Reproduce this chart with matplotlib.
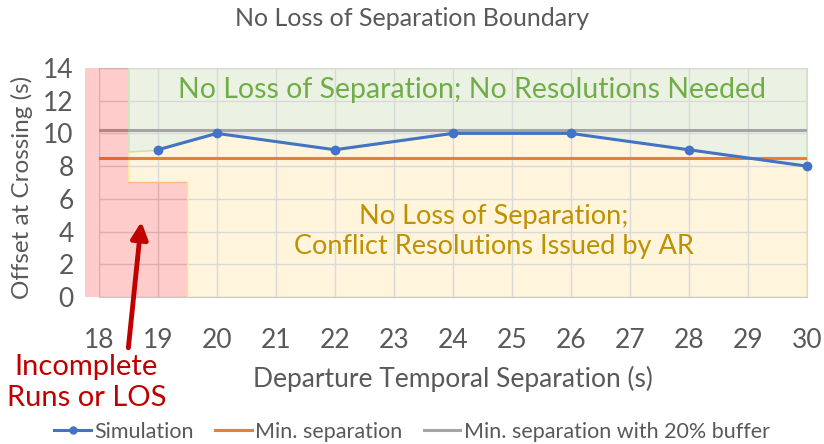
import numpy as np
import matplotlib.pyplot as plt
from matplotlib.patches import Rectangle
from matplotlib.lines import Line2D

plt.rcParams['font.family'] = ['Lato', 'DejaVu Sans']

###--- Data ---###
sep_sim = [19, 20, 22, 24, 26, 28, 30]          # departure temporal separation (s)
offset_sim = [9, 10, 9, 10, 10, 9, 8]           # offset at crossing (s)
min_sep = 8.5
min_sep_buf = 10.2

# region boundaries (stacked area behind the line)
area_x = [18.5, 19, 20, 22, 24, 26, 28, 30]
area_top = [8.9, 9, 10, 9, 10, 10, 9, 8]
los_full = (17.76, 18.5)       # incomplete runs, full height
los_part = (18.5, 19.5, 7)     # incomplete runs up to 7 s

xticks = list(range(18, 31))
yticks = list(range(0, 15, 2))

###--- Plot ---###
fig = plt.figure(figsize=(8.24, 4.44), dpi=100)
ax = fig.add_axes([0.120, 0.331, 0.859, 0.516])

ax.set_xlim(18, 30)
ax.set_ylim(0, 14)

yel_fc, yel_ec = '#FFF5DC', '#FFE38F'
grn_fc, grn_ec = '#EBF2E4', '#C5E0B4'
red_fc = (1.0, 0.0, 0.0, 0.2)

ax.fill_between(area_x, 0, area_top, facecolor=yel_fc, edgecolor=yel_ec, lw=1, zorder=1)
ax.fill_between(area_x, area_top, 14, facecolor=grn_fc, edgecolor=grn_ec, lw=1, zorder=1)
# blank out the yellow under the partial LOS box so it reads pink, not orange
ax.add_patch(Rectangle((los_part[0], 0), los_part[1]-los_part[0], los_part[2], facecolor='white',
                       edgecolor='none', zorder=1.5))

# grid under the red overlay
ax.set_xticks(xticks)
ax.set_yticks(yticks)
ax.grid(True, color='#D9D9D9', lw=1)
ax.set_axisbelow(False)
for s in ['top', 'right', 'left']:
    ax.spines[s].set_color('#D9D9D9')
ax.spines['bottom'].set_color('#C8C8C8')

ax.axhline(min_sep_buf, color='#A5A5A5', lw=2.2, zorder=4)
ax.axhline(min_sep, color='#ED7D31', lw=2.2, zorder=4)

ax.add_patch(Rectangle((los_full[0], 0), los_full[1]-los_full[0], 14, facecolor=red_fc,
                       edgecolor='none', clip_on=False, zorder=4.5))
ax.add_patch(Rectangle((los_part[0], 0), los_part[1]-los_part[0], los_part[2], facecolor=red_fc,
                       edgecolor='none', zorder=4.5))
ax.plot([los_part[0], los_part[1]], [los_part[2], los_part[2]], color='#FFB98A', lw=1, zorder=4.5)
ax.plot([los_part[1], los_part[1]], [0, los_part[2]], color='#FFE38F', lw=1, zorder=4.5)

ax.plot(sep_sim, offset_sim, color='#4472C4', lw=2.2, marker='o', ms=6, zorder=5, clip_on=False)

ax.tick_params(axis='both', length=0, labelsize=19, colors='#595959')
ax.tick_params(axis='y', pad=18)
ax.tick_params(axis='x', pad=22)

ax.set_ylabel('Offset at Crossing (s)', fontsize=17.5, color='#595959')
ax.yaxis.set_label_coords(-0.093, 0.48)
ax.set_xlabel('Departure Temporal Separation (s)', fontsize=19, color='#595959')
ax.xaxis.set_label_coords(0.5, -0.30)
fig.suptitle('No Loss of Separation Boundary', fontsize=18, color='#595959', y=0.985)

ax.text(24.32, 12.65, 'No Loss of Separation; No Resolutions Needed', fontsize=20.5,
        color='#70AD47', ha='center', va='center', zorder=6)
ax.text(24.7, 4.0, 'No Loss of Separation;\nConflict Resolutions Issued by AR', fontsize=19.5,
        color='#BF9000', ha='center', va='center', linespacing=1.22, zorder=6)

fig.text(0.105, 0.138, 'Incomplete\nRuns or LOS', fontsize=21, color='#C00000',
         ha='center', va='center', linespacing=1.25)
ax.annotate('', xy=(18.72, 4.6), xytext=(18.5, -3.1), xycoords='data', textcoords='data',
            arrowprops=dict(arrowstyle='-|>,head_length=1.0,head_width=0.5', color='#C00000',
                            lw=3.5, shrinkA=0, shrinkB=0), annotation_clip=False, zorder=7)

handles = [Line2D([], [], color='#4472C4', lw=2.2, marker='o', ms=5),
           Line2D([], [], color='#ED7D31', lw=2.2),
           Line2D([], [], color='#A5A5A5', lw=2.2)]
labels = ['Simulation', 'Min. separation', 'Min. separation with 20% buffer']
fig.legend(handles, labels, loc='center', bbox_to_anchor=(0.5, 0.027), ncol=3, frameon=False,
           fontsize=15.5, labelcolor='#595959', handlelength=1.7, handletextpad=0.15,
           columnspacing=1.0)

fig.savefig('out.png', dpi=100)
